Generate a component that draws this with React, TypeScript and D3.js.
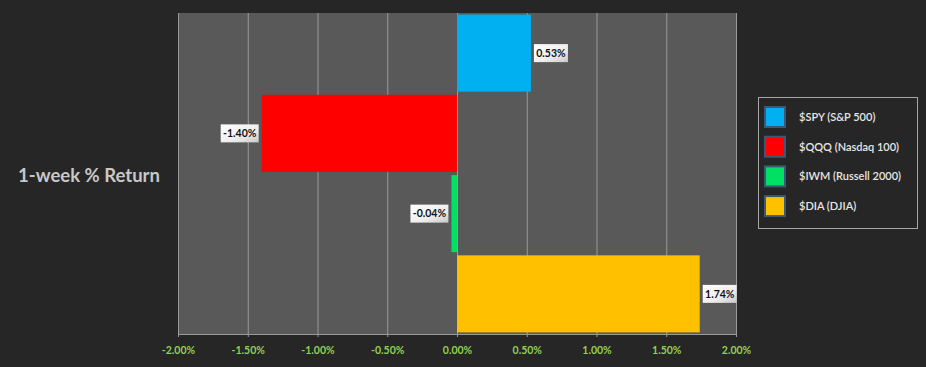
import React, { useEffect, useRef } from 'react';
import * as d3 from 'd3';

const tickers = ['$SPY (S&P 500)', '$QQQ (Nasdaq 100)', '$IWM (Russell 2000)', '$DIA (DJIA)'];
const returns = [0.53, -1.4, -0.04, 1.74];
const colors = ['#00b0f0', '#ff0000', '#00e064', '#ffc000'];
const tickValues = [-2, -1.5, -1, -0.5, 0, 0.5, 1, 1.5, 2];

const App = () => {
  const ref = useRef<SVGSVGElement>(null);

  useEffect(() => {
    document.body.style.margin = '0';
    const svg = d3.select(ref.current);
    svg.selectAll('*').remove();

    const width = 926;
    const height = 367;
    const plot = { left: 178, right: 736, top: 13, bottom: 334 };

    svg.append('rect').attr('width', width).attr('height', height).attr('fill', '#262626');

    const defs = svg.append('defs');
    const grad = defs.append('linearGradient').attr('id', 'lblGrad').attr('x1', 0).attr('y1', 0).attr('x2', 1).attr('y2', 1);
    grad.append('stop').attr('offset', '0%').attr('stop-color', '#ffffff');
    grad.append('stop').attr('offset', '60%').attr('stop-color', '#eeeeee');
    grad.append('stop').attr('offset', '100%').attr('stop-color', '#c8c8c8');

    const x = d3.scaleLinear().domain([-2, 2]).range([plot.left, plot.right]);
    const y = d3.scaleBand().domain(tickers).range([plot.top, plot.bottom]).paddingInner(0.04).paddingOuter(0.02);

    const fmt = (v: number) => v.toFixed(2) + '%';

    svg.append('rect')
      .attr('x', plot.left).attr('y', plot.top)
      .attr('width', plot.right - plot.left).attr('height', plot.bottom - plot.top)
      .attr('fill', '#595959');

    // gridlines
    svg.append('g').selectAll('line').data(tickValues).join('line')
      .attr('x1', d => x(d) + 0.5).attr('x2', d => x(d) + 0.5)
      .attr('y1', plot.top).attr('y2', plot.bottom)
      .attr('stroke', '#9a9a9a').attr('stroke-width', 1);

    // bars
    svg.append('g').selectAll('rect').data(returns).join('rect')
      .attr('x', d => Math.min(x(0), x(d)))
      .attr('width', d => Math.abs(x(d) - x(0)))
      .attr('y', (_, i) => y(tickers[i])!)
      .attr('height', y.bandwidth())
      .attr('fill', (_, i) => colors[i]);

    // x axis
    const axis = svg.append('g')
      .attr('transform', `translate(0,${plot.bottom})`)
      .call(d3.axisBottom(x).tickValues(tickValues).tickSize(3).tickSizeOuter(0).tickFormat(d => fmt(d as number)));
    axis.select('.domain').attr('stroke', '#9a9a9a');
    axis.selectAll('.tick line').attr('stroke', '#9a9a9a');
    axis.selectAll('.tick text')
      .attr('fill', '#92d050')
      .attr('font-family', 'Lato, "Open Sans", sans-serif')
      .attr('font-weight', 'bold')
      .attr('font-size', 10.5)
      .attr('dy', 14);

    // data labels
    const lbl = svg.append('g').selectAll('g').data(returns).join('g')
      .attr('transform', (d, i) => {
        const cy = y(tickers[i])! + y.bandwidth() / 2;
        const bx = d >= 0 ? x(d) + 3 : x(d) - 3 - 38;
        return `translate(${bx},${cy})`;
      });
    lbl.append('rect')
      .attr('x', 0).attr('y', -9).attr('width', d => (d < 0 ? 38 : 34)).attr('height', 18)
      .attr('fill', 'url(#lblGrad)');
    lbl.append('text')
      .attr('x', d => (d < 0 ? 19 : 17)).attr('y', 0).attr('dy', '0.35em')
      .attr('text-anchor', 'middle')
      .attr('font-family', 'Lato, "Open Sans", sans-serif')
      .attr('font-weight', 'bold')
      .attr('font-size', 10.5)
      .attr('fill', '#111')
      .text(d => fmt(d));

    // title
    svg.append('text')
      .attr('x', 89).attr('y', 176).attr('dy', '0.35em')
      .attr('text-anchor', 'middle')
      .attr('font-family', 'Lato, "Open Sans", sans-serif')
      .attr('font-weight', 'bold')
      .attr('font-size', 18.5)
      .attr('fill', '#c8c8c8')
      .text('1-week % Return');

    // legend
    const lg = svg.append('g');
    lg.append('rect')
      .attr('x', 758.5).attr('y', 97.5).attr('width', 159).attr('height', 131)
      .attr('fill', '#262626').attr('stroke', '#a6a6a6');
    const items = lg.selectAll('g.item').data(tickers).join('g')
      .attr('transform', (_, i) => `translate(765,${117 + i * 29.7})`);
    items.append('rect')
      .attr('x', 0).attr('y', -10).attr('width', 20).attr('height', 20)
      .attr('fill', (_, i) => colors[i])
      .attr('stroke', '#3b5878').attr('stroke-width', 2);
    items.append('text')
      .attr('x', 34).attr('dy', '0.35em')
      .attr('font-family', 'Lato, "Open Sans", sans-serif')
      .attr('font-size', 11)
      .attr('font-weight', 600)
      .attr('fill', '#e6e6e6')
      .text(d => d);
  }, []);

  return <svg ref={ref} width={926} height={367} style={{ display: 'block' }} />;
};

export default App;
